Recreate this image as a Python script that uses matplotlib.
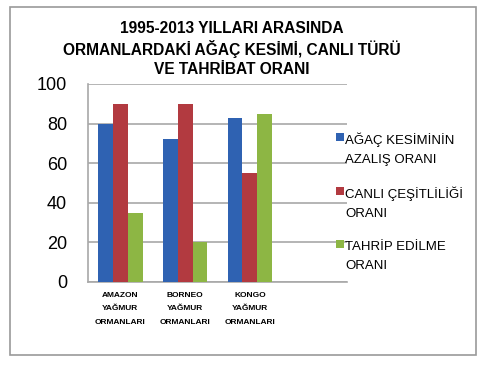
import matplotlib
matplotlib.use("Agg")
import matplotlib.pyplot as plt
import numpy as np
from matplotlib.patches import Patch, Rectangle
from matplotlib.legend_handler import HandlerPatch

plt.rcParams['font.family'] = ['Liberation Sans', 'DejaVu Sans']

categories = ["AMAZON\nYAĞMUR\nORMANLARI", "BORNEO\nYAĞMUR\nORMANLARI", "KONGO\nYAĞMUR\nORMANLARI"]
series_names = ["AĞAÇ KESİMİNİN\nAZALIŞ ORANI", "CANLI ÇEŞİTLİLİĞİ\nORANI", "TAHRİP EDİLME\nORANI"]
agac = [80, 72, 83]
canli = [90, 90, 55]
tahrip = [35, 20, 85]
yticks = [0, 20, 40, 60, 80, 100]
title = "1995-2013 YILLARI ARASINDA\nORMANLARDAKİ AĞAÇ KESİMİ, CANLI TÜRÜ\nVE TAHRİBAT ORANI"

colors = ["#2F62B2", "#B23A40", "#8DB644"]

W, H = 486, 367
fig = plt.figure(figsize=(W/100, H/100), dpi=100)
fig.patches.append(Rectangle((10/W, 1-355/H), 466/W, 348/H, transform=fig.transFigure,
                             fill=False, edgecolor="#9a9a9a", linewidth=1.2))

ax = fig.add_axes([88/W, 1-282/H, (347-88)/W, (282-84)/H])
x = np.arange(len(categories))
bw = 0.23
for i, (vals, c) in enumerate(zip([agac, canli, tahrip], colors)):
    ax.bar(x + (i-1)*bw, vals, bw, color=c, zorder=3)

ax.set_xlim(-0.5, 3.5)
ax.set_ylim(0, 100)
ax.set_yticks(yticks)
ax.set_yticklabels([str(v) for v in yticks], fontsize=13)
ax.set_xticks(x)
ax.set_xticklabels(categories, fontsize=6, fontweight='bold', linespacing=2.3)
ax.tick_params(axis='y', length=0, pad=15)
ax.tick_params(axis='x', length=0, pad=7)
ax.yaxis.grid(True, color="#a8a8a8", linewidth=1.2, zorder=0)
for s in ['top', 'right']:
    ax.spines[s].set_visible(False)
for s in ['left', 'bottom']:
    ax.spines[s].set_color("#a8a8a8")
    ax.spines[s].set_linewidth(1.2)


def top_square(legend, orig_handle, xdescent, ydescent, width, height, fontsize):
    s = 0.6 * fontsize
    return Rectangle((width - s - xdescent, -ydescent + height + 0.55 * fontsize - s / 2), s, s)


handles = [Patch(facecolor=c, edgecolor='none') for c in colors]
leg = fig.legend(handles, series_names, loc='upper left',
                 bbox_to_anchor=(329/W, 1-127/H), frameon=False,
                 fontsize=9.5, handlelength=0.7, handleheight=0.7,
                 handletextpad=0.15, labelspacing=1.6, borderaxespad=0,
                 handler_map={Patch: HandlerPatch(patch_func=top_square)})
for t in leg.get_texts():
    t.set_linespacing(1.75)

fig.text(232/W, 1-49/H, title, ha='center', va='center', fontsize=11.2,
         fontweight='bold', linespacing=1.33)

fig.savefig("out.png", dpi=100)
